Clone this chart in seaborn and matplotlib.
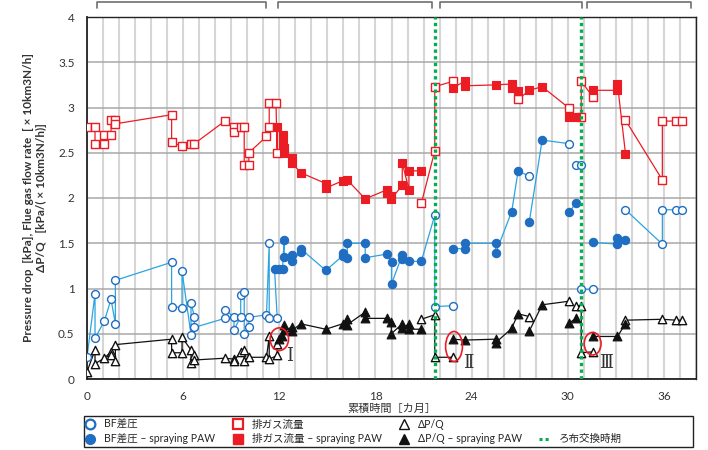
import numpy as np
import pandas as pd
import matplotlib
matplotlib.use("Agg")
import matplotlib.pyplot as plt
import seaborn as sns
from matplotlib.patches import Ellipse, Rectangle
from matplotlib.lines import Line2D
from matplotlib.transforms import blended_transform_factory

# ---------------------------------------------------------------
# BF差圧 (bag filter pressure drop) [kPa]; paw = 1 while spraying PAW
# seg groups the points joined by one polyline
bf_month = [0.0, 0.5, 0.5, 1.08, 1.5, 1.77, 1.77, 5.28, 5.28, 5.93, 5.93, 6.49, 6.49, 6.7, 6.7,
            8.6, 8.6, 9.17, 9.17, 9.59, 9.59, 9.81, 9.81, 10.1, 10.1, 11.2, 11.37, 11.37, 11.87,
            11.7, 12.0, 12.2, 12.3, 12.3, 12.77, 12.77, 13.33, 13.33, 14.9, 15.95, 15.95, 16.24,
            16.24, 17.36, 17.36, 18.7, 19.0, 19.0, 19.67, 19.67, 20.09, 20.86, 21.7, 21.7, 22.85,
            22.85, 23.58, 23.58, 25.5, 25.5, 26.5, 26.9, 27.6,
            27.6, 28.4, 30.1,
            30.1, 30.5,
            30.5, 30.84,
            30.84, 31.55,
            31.55, 33.1, 33.1, 33.6,
            33.6, 35.9, 35.9, 36.75, 37.1]
bf_value = [0.24, 0.94, 0.45, 0.64, 0.88, 0.61, 1.09, 1.29, 0.80, 0.79, 1.19, 0.49, 0.84, 0.69, 0.57,
            0.67, 0.76, 0.69, 0.54, 0.69, 0.93, 0.96, 0.50, 0.58, 0.68, 0.71, 1.50, 0.67, 0.67,
            1.22, 1.22, 1.22, 1.54, 1.35, 1.37, 1.30, 1.40, 1.44, 1.20, 1.36, 1.39, 1.34,
            1.50, 1.50, 1.34, 1.38, 1.29, 1.05, 1.37, 1.33, 1.30, 1.30, 1.81, 0.80, 0.81,
            1.44, 1.44, 1.50, 1.50, 1.39, 1.85, 2.30, 2.24,
            1.74, 2.64, 2.60,
            1.84, 1.95,
            2.37, 2.37,
            0.99, 0.99,
            1.51, 1.49, 1.56, 1.54,
            1.87, 1.49, 1.87, 1.87, 1.87]
bf_paw = [0] * 29 + [1] * 23 + [0] * 3 + [1] * 7 + [0] + [1, 1, 0] + [1, 1] + [0, 0] + [0, 0] \
         + [1] * 4 + [0] * 5
bf_seg = [0] * 55 + [1] * 8 + [2] * 3 + [3] * 2 + [4] * 2 + [5] * 2 + [6] * 4 + [7] * 5

# 排ガス流量 (flue gas flow rate) [x10 km3N/h]
gas_month = [0.0, 0.5, 0.5, 1.08, 1.08, 1.5, 1.5, 1.77, 1.77, 5.28, 5.28, 5.93, 6.49, 6.7, 8.6,
             9.17, 9.17, 9.59, 9.81, 9.81, 10.1, 10.1, 11.2, 11.37, 11.37, 11.79, 11.87,
             11.87, 12.2, 12.2, 12.3, 12.3, 12.77, 12.77, 13.33, 14.9, 14.9, 15.95, 16.24, 17.36,
             18.7, 18.7, 18.99, 18.99, 19.67, 19.67, 20.09, 20.09, 20.86,
             20.86, 21.7, 21.7, 22.85,
             22.85, 23.58, 23.58, 25.5, 26.5, 26.5, 26.9, 26.9, 27.6, 28.4, 30.1,
             30.1, 30.5, 30.84, 30.84, 31.55, 31.55, 33.1, 33.1, 33.6,
             33.6, 35.9, 35.9, 36.75, 37.1]
gas_value = [2.79, 2.79, 2.60, 2.60, 2.70, 2.70, 2.86, 2.86, 2.82, 2.92, 2.62, 2.57, 2.60, 2.60, 2.85,
             2.79, 2.73, 2.79, 2.79, 2.37, 2.37, 2.50, 2.68, 2.78, 3.05, 3.05, 2.50,
             2.79, 2.70, 2.60, 2.55, 2.50, 2.44, 2.39, 2.28, 2.16, 2.11, 2.19, 2.20, 1.99,
             2.09, 2.05, 2.02, 1.99, 2.14, 2.39, 2.09, 2.30, 2.30,
             1.94, 2.52, 3.23, 3.29,
             3.22, 3.29, 3.24, 3.25, 3.26, 3.21, 3.18, 3.09, 3.19, 3.23, 2.99,
             2.89, 2.89, 2.89, 3.29, 3.12, 3.19, 3.19, 3.26, 2.49,
             2.86, 2.20, 2.85, 2.85, 2.85]
gas_paw = [0] * 27 + [1] * 22 + [0] * 4 + [1] * 7 + [0] + [1, 1, 0] \
          + [1, 1, 0, 0, 0, 1, 1, 1, 1] + [0] * 5
gas_seg = [0] * 49 + [1] * 4 + [2] * 11 + [3] * 9 + [4] * 5

# ΔP/Q [kPa/(x10 km3N/h)]
dpq_month = [0.0, 0.5, 0.5, 1.08, 1.5, 1.5, 1.77, 1.77, 5.28, 5.28, 5.93, 5.93, 6.49, 6.49, 6.7, 6.7,
             8.6, 9.17, 9.17, 9.59, 9.81, 9.81, 10.1, 11.2, 11.37, 11.37, 11.87, 11.87,
             11.95, 12.15, 12.3, 12.3, 12.77, 12.77, 13.33, 14.9, 15.95, 16.24, 16.24, 17.36,
             17.36, 18.7, 18.99, 18.99, 19.67, 19.67, 20.09, 20.09, 20.86,
             20.86, 21.7, 21.7, 22.85,
             22.85, 23.58, 25.5, 25.5, 26.5, 26.9, 27.6,
             27.6, 28.4, 30.1,
             30.1, 30.5,
             30.5, 30.84, 30.84, 31.55,
             31.55, 33.1, 33.6, 33.6, 35.9, 36.75, 37.1]
dpq_value = [0.08, 0.32, 0.17, 0.23, 0.30, 0.26, 0.20, 0.38, 0.44, 0.29, 0.29, 0.46, 0.32, 0.18, 0.26, 0.21,
             0.23, 0.22, 0.20, 0.30, 0.32, 0.20, 0.24, 0.24, 0.47, 0.22, 0.26, 0.39,
             0.44, 0.47, 0.60, 0.54, 0.57, 0.53, 0.61, 0.55, 0.61, 0.66, 0.60, 0.74,
             0.67, 0.67, 0.63, 0.50, 0.61, 0.56, 0.61, 0.55, 0.55,
             0.66, 0.71, 0.24, 0.24,
             0.44, 0.43, 0.44, 0.40, 0.56, 0.72, 0.69,
             0.53, 0.82, 0.86,
             0.62, 0.67,
             0.81, 0.81, 0.29, 0.30,
             0.47, 0.47, 0.61, 0.65, 0.66, 0.65, 0.65]
dpq_paw = [0] * 28 + [1] * 21 + [0] * 4 + [1] * 6 + [0] + [1, 1, 0] + [1, 1] + [0] * 4 \
          + [1, 1, 1] + [0] * 4
dpq_seg = [0] * 49 + [1] * 4 + [2] * 7 + [3] * 3 + [4] * 2 + [5] * 4 + [6] * 7

# ろ布交換時期 (filter cloth replacement) [months]
cloth_change = [21.7, 30.84]
# operating periods marked by brackets above the plot [months]
periods = [(0.6, 11.2), (11.9, 21.5), (22.0, 30.9), (31.2, 37.7)]
# highlighted spots and their labels: (x, y, width, height, label, label_x, label_y)
spots = [(12.0, 0.44, 1.15, 0.25, "Ⅰ", 12.65, 0.25),
         (22.9, 0.36, 1.05, 0.33, "Ⅱ", 23.8, 0.18),
         (31.55, 0.39, 1.05, 0.25, "Ⅲ", 32.4, 0.18)]
x_ticks = [0, 6, 12, 18, 24, 30, 36]
y_ticks = [0, 0.5, 1, 1.5, 2, 2.5, 3, 3.5, 4]

BLUE_LINE = "#2ba4e0"
BLUE = "#1f6ec2"
RED = "#ec1c24"
BLACK = "#111111"
GREEN = "#00b050"

sns.set_style("white")
plt.rcParams["font.family"] = ["Lato", "Noto Sans CJK JP", "DejaVu Sans"]
plt.rcParams["axes.unicode_minus"] = False


def frame(month, value, paw, seg):
    return pd.DataFrame({"month": month, "value": value, "paw": paw, "seg": seg})


bf = frame(bf_month, bf_value, bf_paw, bf_seg)
gas = frame(gas_month, gas_value, gas_paw, gas_seg)
dpq = frame(dpq_month, dpq_value, dpq_paw, dpq_seg)

fig = plt.figure(figsize=(7.08, 4.5), dpi=100)
ax = fig.add_axes([87 / 708, 1 - 379 / 450, (696 - 87) / 708, (379 - 17) / 450])

# connecting lines
for df, lc in [(gas, RED), (bf, BLUE_LINE), (dpq, BLACK)]:
    sns.lineplot(data=df, x="month", y="value", units="seg", estimator=None, sort=False,
                 color=lc, lw=0.9, ax=ax, legend=False, zorder=2)

# markers: open = normal operation, filled = spraying PAW
specs = [(gas, "s", RED, 34), (bf, "o", BLUE, 32), (dpq, "^", BLACK, 36)]
for df, mk, c, s in specs:
    sns.scatterplot(data=df[df.paw == 0], x="month", y="value", marker=mk, s=s, color="white",
                    edgecolor=c, linewidth=1.0, ax=ax, legend=False, zorder=3)
    sns.scatterplot(data=df[df.paw == 1], x="month", y="value", marker=mk, s=s + 4, color=c,
                    edgecolor=c, linewidth=0.8, ax=ax, legend=False, zorder=3)

for xc in cloth_change:
    ax.axvline(xc, color=GREEN, ls=(0, (1, 1)), lw=2.4, zorder=5)

for (ex, ey, ew, eh, lab, lx, ly) in spots:
    ax.add_patch(Ellipse((ex, ey), ew, eh, fill=False, edgecolor=RED, lw=1.2, zorder=6))
    ax.text(lx, ly, lab, family=["DejaVu Serif", "Noto Sans CJK JP"], fontsize=13,
            fontweight="light", ha="center", va="center", color="#333333", zorder=6)

trans = blended_transform_factory(ax.transData, ax.transAxes)
for x0, x1 in periods:
    ax.plot([x0, x0, x1, x1], [1.0249, 1.0414, 1.0414, 1.0249], transform=trans,
            clip_on=False, color="#707070", lw=1.2)

ax.set_xlim(0, 38)
ax.set_ylim(0, 4)
ax.set_xticks(x_ticks)
ax.set_xticklabels([str(t) for t in x_ticks])
ax.set_xticks(np.arange(0, 39, 1), minor=True)
ax.set_yticks(y_ticks)
ax.set_yticklabels([f"{t:g}" for t in y_ticks])
ax.set_axisbelow(True)
ax.grid(which="both", axis="x", color="#d6d6d6", lw=1.5)
ax.grid(which="major", axis="y", color="#a8a8a8", lw=1.1)
ax.tick_params(axis="x", which="major", direction="in", length=4, width=1, color="#222222",
               pad=9, labelsize=8.5, labelcolor="#333333")
ax.tick_params(axis="x", which="minor", length=0)
ax.tick_params(axis="y", length=0, pad=9, labelsize=8.5, labelcolor="#333333")
for sp in ax.spines.values():
    sp.set_visible(True)
    sp.set_color("#222222")
    sp.set_linewidth(1.0)
ax.spines["left"].set_linewidth(1.3)
ax.spines["bottom"].set_linewidth(1.3)

ax.set_xlabel("累積時間［カ月］", fontsize=8, color="#333333", labelpad=0)
ax.set_ylabel("Pressure drop  [kPa], Flue gas flow rate  [ × 10km3N/h]\nΔP/Q   [kPa/( × 10km3N/h)]",
              fontsize=8.5, fontweight="bold", color="#333333", linespacing=1.3)
ax.yaxis.label.set_rotation_mode("default")
ax.yaxis.label.set_va("center")
ax.yaxis.set_label_coords((35 - 87) / 609, 0.5)

# legend
handles = [
    Line2D([], [], ls="none", marker="o", mfc="white", mec=BLUE, mew=1.6, ms=7),
    Line2D([], [], ls="none", marker="o", mfc=BLUE, mec=BLUE, ms=7),
    Line2D([], [], ls="none", marker="s", mfc="white", mec=RED, mew=1.6, ms=7),
    Line2D([], [], ls="none", marker="s", mfc=RED, mec=RED, ms=7),
    Line2D([], [], ls="none", marker="^", mfc="white", mec=BLACK, mew=1.0, ms=7),
    Line2D([], [], ls="none", marker="^", mfc=BLACK, mec=BLACK, ms=7),
    Line2D([], [], ls="none", marker=None),
    Line2D([], [], color=GREEN, ls=(0, (1, 1)), lw=2.2),
]
labels = ["BF差圧", "BF差圧 – spraying PAW", "排ガス流量", "排ガス流量 – spraying PAW",
          "ΔP/Q", "ΔP/Q – spraying PAW", "", "ろ布交換時期"]
fig.legend(handles, labels, ncol=4, loc="upper left", bbox_to_anchor=(83 / 708, 1 - 418 / 450),
           frameon=False, fontsize=7.6, handlelength=1.2, handletextpad=0.7,
           columnspacing=1.55, labelspacing=0.3, borderpad=0.1, borderaxespad=0)
fig.patches.append(Rectangle((84 / 708, 1 - 447 / 450), (693 - 84) / 708, (447 - 416) / 450,
                             transform=fig.transFigure, fill=False, edgecolor="#222222", lw=1.0))

fig.savefig("out.png", dpi=100)
